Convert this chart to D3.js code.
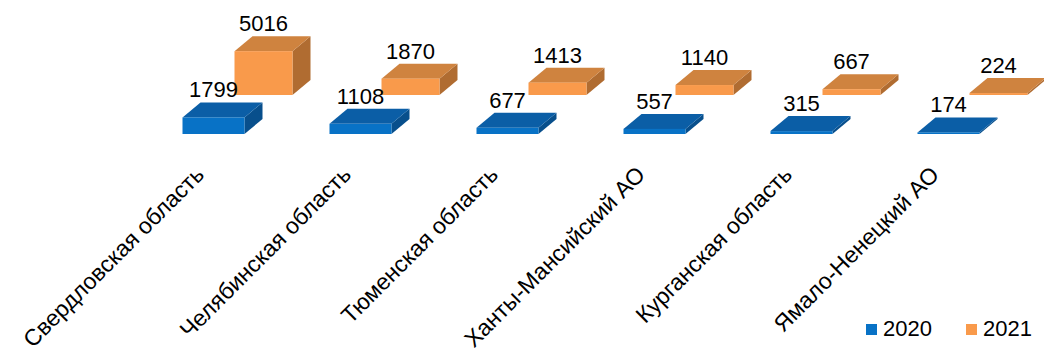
<!DOCTYPE html>
<html>
<head>
<meta charset="utf-8">
<script src="https://cdn.jsdelivr.net/npm/d3@7"></script>
<style>
  body { margin: 0; background: #fff; }
  svg { display: block; font-family: "Liberation Sans", Arial, sans-serif; }
</style>
</head>
<body>
<div id="chart"></div>
<script>
const regions = ["Свердловская область", "Челябинская область", "Тюменская область",
  "Ханты-Мансийский АО", "Курганская область", "Ямало-Ненецкий АО"];
const years = ["2020", "2021"];
const values2020 = [1799, 1108, 677, 557, 315, 174];
const values2021 = [5016, 1870, 1413, 1140, 667, 224];

const width = 1044, height = 349;

const svg = d3.select("#chart").append("svg")
  .attr("width", width).attr("height", height);

// category positions (center of front row bar)
const x = d3.scaleBand().domain(regions).range([140, 1022]);

// bar height in px, front row
const h = d3.scaleLinear().domain([0, 5000]).range([0, 46]);

// each series sits on its own depth row
const rows = [
  {year: years[0], values: values2020, dx: 0, base: 134, w: 62, k: 1,
   front: "#0872c6", top: "#0b5ea6", side: "#084f8c"},
  {year: years[1], values: values2021, dx: 50, base: 95, w: 58, k: 0.95,
   front: "#f99a4b", top: "#cf833f", side: "#b06c31"}
];
const depthX = 18, depthY = -15;

// back row first so the front row overlaps it
rows.slice().reverse().forEach(row => {
  const g = svg.append("g");
  row.values.forEach((v, i) => {
    const cx = x(regions[i]) + x.bandwidth() / 2 + row.dx;
    const x0 = cx - row.w / 2, x1 = cx + row.w / 2;
    const yb = row.base, yt = row.base - Math.max(h(v) * row.k, 1.5);

    // right side
    g.append("path")
      .attr("d", `M${x1},${yb}L${x1 + depthX},${yb + depthY}L${x1 + depthX},${yt + depthY}L${x1},${yt}Z`)
      .attr("fill", row.side);
    // top
    g.append("path")
      .attr("d", `M${x0},${yt}L${x0 + depthX},${yt + depthY}L${x1 + depthX},${yt + depthY}L${x1},${yt}Z`)
      .attr("fill", row.top);
    // front
    g.append("rect")
      .attr("x", x0).attr("y", yt)
      .attr("width", row.w).attr("height", yb - yt)
      .attr("fill", row.front);

    g.append("text")
      .attr("x", cx).attr("y", yt + depthY - 5)
      .attr("text-anchor", "middle")
      .attr("font-size", 22)
      .attr("fill", "#000")
      .text(v);
  });
});

// category labels
svg.append("g").selectAll("text")
  .data(regions)
  .join("text")
  .attr("transform", d => `translate(${x(d) + x.bandwidth() / 2 - 8},176) rotate(-45)`)
  .attr("text-anchor", "end")
  .attr("font-size", 23)
  .attr("fill", "#000")
  .text(d => d);

// legend
const legend = svg.append("g");
rows.forEach((row, i) => {
  const lx = 866 + i * 100;
  legend.append("rect")
    .attr("x", lx).attr("y", 324).attr("width", 11).attr("height", 11)
    .attr("fill", row.front);
  legend.append("text")
    .attr("x", lx + 17).attr("y", 336)
    .attr("font-size", 22)
    .attr("fill", "#000")
    .text(row.year);
});
</script>
</body>
</html>
